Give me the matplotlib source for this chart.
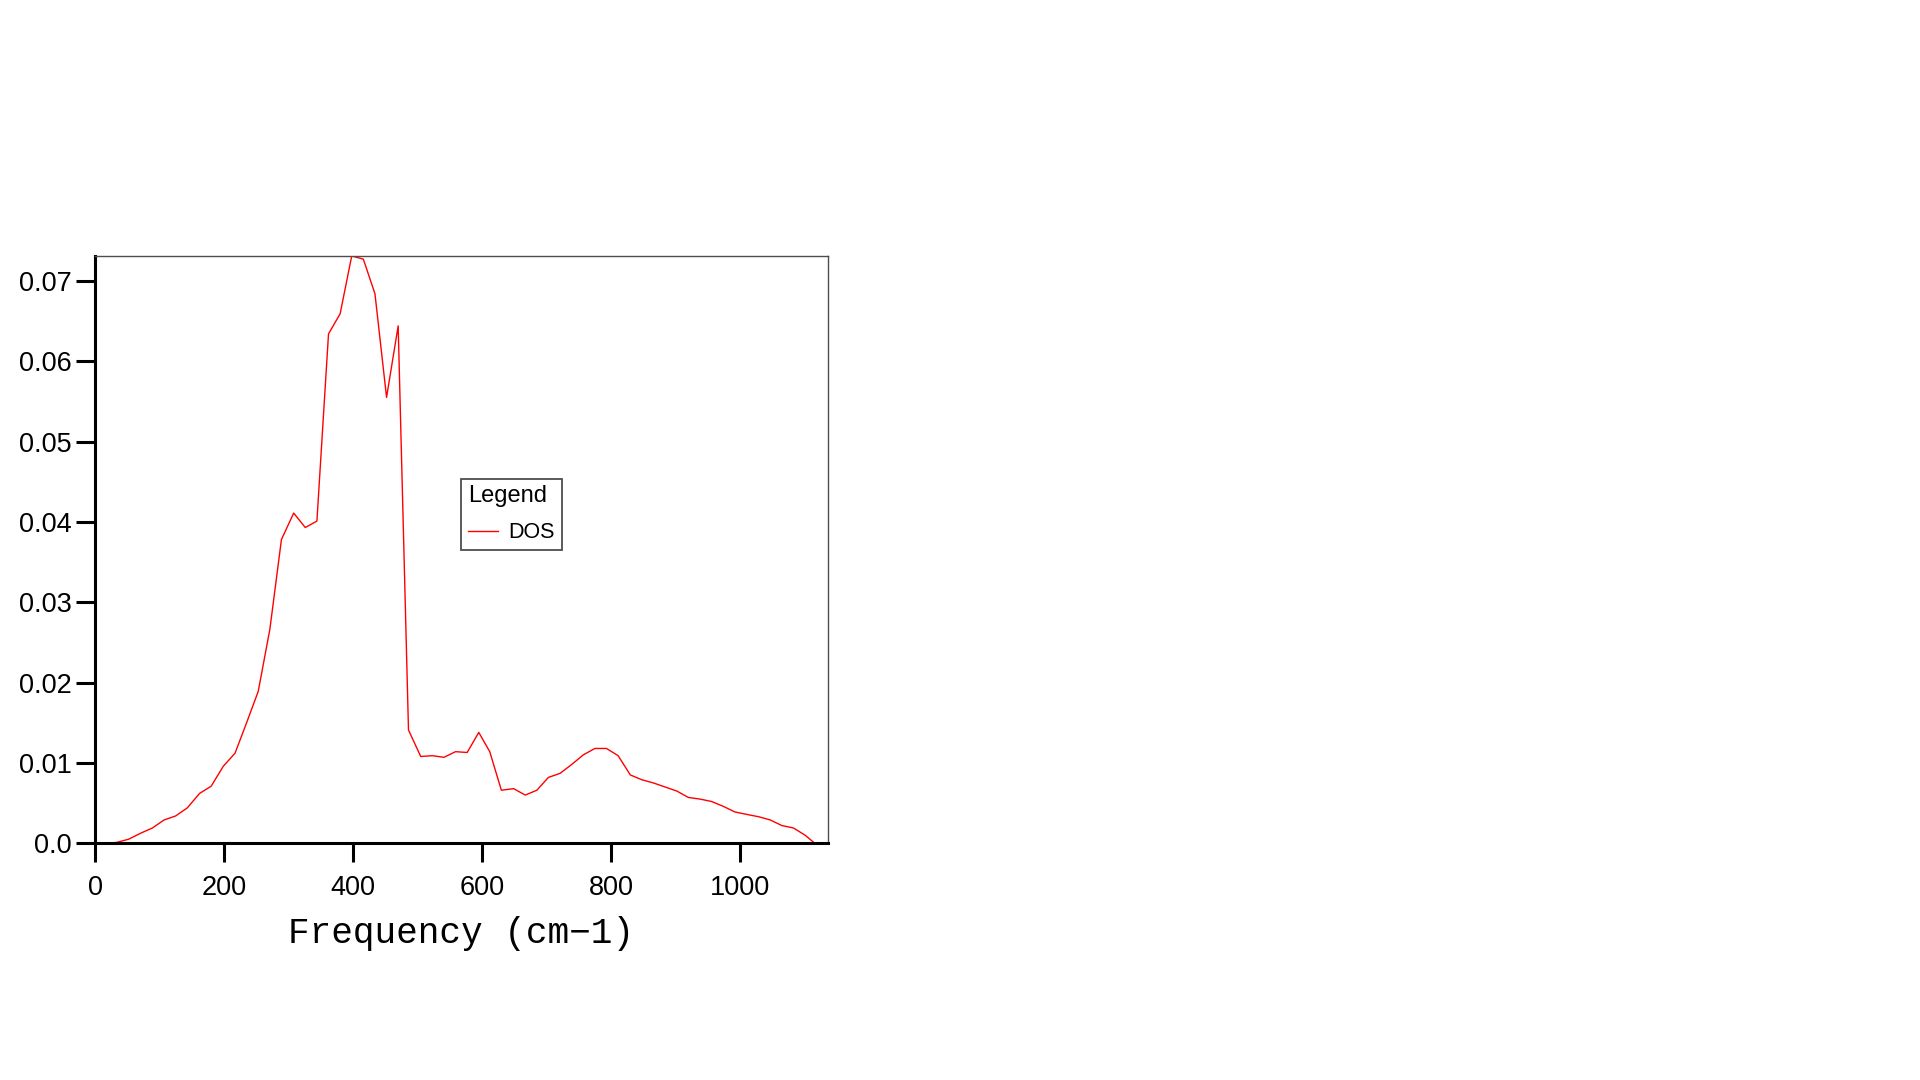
import matplotlib
matplotlib.use("Agg")
import matplotlib.pyplot as plt

# DOS curve
freq = [13, 33, 52, 72, 89, 107, 125, 143, 162, 180, 199, 217, 235, 253, 271,
        289, 308, 326, 344, 362, 380, 398, 416, 434, 452, 470,
        486, 505, 523, 541, 559, 577, 595, 612, 630, 649, 667, 685, 703, 721,
        739, 757, 775, 793, 811, 830, 848, 866, 884, 902, 920, 938, 956, 974,
        992, 1010, 1029, 1047, 1065, 1083, 1101, 1116]
dos = [0.0000, 0.0001, 0.0005, 0.0013, 0.0019, 0.0029, 0.0034, 0.0044, 0.0062, 0.0071,
       0.0096, 0.0112, 0.0150, 0.0189, 0.0266, 0.0378, 0.0411, 0.0393, 0.0401, 0.0634,
       0.0659, 0.0731, 0.0727, 0.0684, 0.0555, 0.0644,
       0.0141, 0.0108, 0.0109, 0.0107, 0.0114, 0.0113, 0.0138, 0.0114, 0.0066, 0.0068,
       0.0060, 0.0066, 0.0082, 0.0087, 0.0098, 0.0110, 0.0118, 0.0118, 0.0109, 0.0085,
       0.0079, 0.0075, 0.0070, 0.0065, 0.0057, 0.0055, 0.0052, 0.0046, 0.0039, 0.0036,
       0.0033, 0.0029, 0.0022, 0.0019, 0.0010, 0.0000]

x_ticks = [0, 200, 400, 600, 800, 1000]
y_ticks = [0.0, 0.01, 0.02, 0.03, 0.04, 0.05, 0.06, 0.07]
y_tick_labels = ["0.0", "0.01", "0.02", "0.03", "0.04", "0.05", "0.06", "0.07"]
x_max = 1136

plt.rcParams['font.family'] = ['Liberation Sans', 'DejaVu Sans']

fig = plt.figure(figsize=(19.2, 10.8), dpi=100)
ax = fig.add_axes([0.0495, 0.2192, 0.3816, 0.5438])

ax.plot(freq, dos, color='red', linewidth=1.0, label='DOS')

ax.set_xlim(0, x_max)
ax.set_ylim(0, max(dos))
ax.set_xticks(x_ticks)
ax.set_xticklabels([str(t) for t in x_ticks])
ax.set_yticks(y_ticks)
ax.set_yticklabels(y_tick_labels)

for side in ['left', 'bottom']:
    ax.spines[side].set_linewidth(2.2)
    ax.spines[side].set_color('black')
for side in ['top', 'right']:
    ax.spines[side].set_linewidth(1.0)
    ax.spines[side].set_color('#4d4d4d')

ax.tick_params(axis='both', direction='out', length=14, width=2.2, labelsize=19.5, color='black')
ax.tick_params(axis='y', pad=3)
ax.tick_params(axis='x', pad=9)

ax.set_xlabel('Frequency (cm\u22121)', family=['Liberation Mono', 'DejaVu Sans Mono'],
              fontsize=26, labelpad=11)

leg = ax.legend(loc='lower left', bbox_to_anchor=(0.5, 0.5), borderaxespad=0,
                title='Legend', title_fontsize=17, fontsize=15.5, alignment='left',
                fancybox=False, framealpha=1, edgecolor='#4d4d4d',
                handlelength=1.4, handletextpad=0.5, borderpad=0.3, labelspacing=0.7)
leg.get_frame().set_linewidth(1.3)

fig.savefig('out.png', dpi=100)
